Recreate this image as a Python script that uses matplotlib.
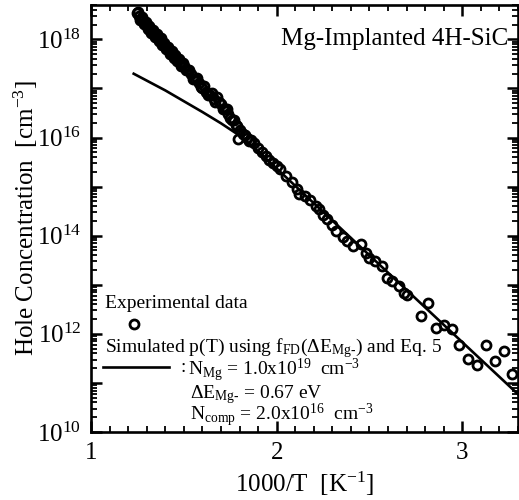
import numpy as np
import matplotlib
matplotlib.use("Agg")
import matplotlib.pyplot as plt
from matplotlib.ticker import LogLocator, MultipleLocator, FuncFormatter, NullFormatter

plt.rcParams["font.family"] = ["Liberation Serif", "DejaVu Serif"]
plt.rcParams["mathtext.fontset"] = "custom"
plt.rcParams["mathtext.rm"] = "Liberation Serif"
plt.rcParams["mathtext.it"] = "Liberation Serif:italic"
plt.rcParams["mathtext.bf"] = "Liberation Serif:bold"

exp_x = [1.247, 1.26, 1.27, 1.28, 1.29, 1.30, 1.31, 1.32, 1.33, 1.34,
         1.35, 1.36, 1.37, 1.38, 1.39, 1.40, 1.41, 1.42, 1.43, 1.44,
         1.45, 1.46, 1.47, 1.48, 1.49, 1.50, 1.52, 1.54, 1.56, 1.58,
         1.60, 1.62, 1.64, 1.66, 1.68, 1.70, 1.72, 1.74, 1.76, 1.78,
         1.79, 1.80, 1.82, 1.84, 1.86, 1.88, 1.90, 1.92, 1.94, 1.96,
         1.98, 2.00, 2.02, 2.05, 2.08, 2.11, 2.12, 2.15, 2.18, 2.21,
         2.23, 2.25, 2.27, 2.30, 2.32, 2.355, 2.38, 2.41, 2.457, 2.48,
         2.50, 2.53, 2.57, 2.597, 2.62, 2.66, 2.688, 2.70, 2.78, 2.817,
         2.86, 2.903, 2.946, 2.984, 3.03, 3.08, 3.13, 3.177, 3.226, 3.27]
exp_logp = [18.54, 18.47, 18.42, 18.38, 18.33, 18.29, 18.25, 18.20, 18.16, 18.12,
            18.07, 18.03, 17.99, 17.95, 17.90, 17.86, 17.83, 17.78, 17.74, 17.69,
            17.66, 17.62, 17.57, 17.53, 17.49, 17.45, 17.37, 17.29, 17.20, 17.11,
            17.01, 16.93, 16.86, 16.79, 16.83, 16.68, 16.58, 16.48, 16.36, 16.26,
            15.97, 16.15, 16.07, 16.00, 15.95, 15.88, 15.78, 15.70, 15.62, 15.55,
            15.48, 15.42, 15.36, 15.22, 15.10, 14.95, 14.85, 14.80, 14.72, 14.60,
            14.55, 14.42, 14.35, 14.21, 14.10, 13.98, 13.90, 13.78, 13.84, 13.65,
            13.54, 13.48, 13.38, 13.13, 13.08, 12.97, 12.83, 12.79, 12.36, 12.63,
            12.12, 12.18, 12.10, 11.78, 11.49, 11.37, 11.78, 11.45, 11.66, 11.19]

# second run of measurements crowding the high-temperature band
band_x = [1.255, 1.265, 1.275, 1.285, 1.295, 1.305, 1.315, 1.325, 1.335, 1.345,
          1.355, 1.365, 1.375, 1.385, 1.395, 1.405, 1.415, 1.425, 1.435, 1.445,
          1.455, 1.465, 1.475, 1.485, 1.495, 1.51, 1.53, 1.55, 1.57, 1.59,
          1.61, 1.63, 1.65, 1.67, 1.69, 1.71, 1.73, 1.75, 1.77, 1.785,
          1.83, 1.85]
band_logp = [18.55, 18.40, 18.45, 18.31, 18.36, 18.22, 18.28, 18.13, 18.19, 18.05,
             18.10, 17.96, 18.02, 17.88, 17.93, 17.80, 17.85, 17.71, 17.77, 17.63,
             17.69, 17.55, 17.60, 17.46, 17.52, 17.37, 17.38, 17.20, 17.22, 17.03,
             17.05, 16.86, 16.90, 16.72, 16.72, 16.58, 16.58, 16.40, 16.36, 16.24,
             16.05, 15.93]

# simulated p(T) curve
sim_x = [1.23, 1.30, 1.40, 1.50, 1.60, 1.70, 1.80, 1.90, 2.00, 2.50, 3.00, 3.30]
sim_logp = [17.30, 17.16, 16.96, 16.74, 16.52, 16.29, 16.04, 15.72, 15.37, 13.60, 11.83, 10.77]

exp_p = 10.0 ** np.array(exp_logp)
band_p = 10.0 ** np.array(band_logp)
sim_p = 10.0 ** np.array(sim_logp)

fig = plt.figure(figsize=(5.19, 5.00), dpi=100)
ax = fig.add_axes([91 / 519, 1 - 432 / 500, 427 / 519, 427 / 500])

ax.plot(sim_x, sim_p, color="black", lw=1.9, zorder=2)
mk = dict(marker="o", ls="none", ms=6.5, mfc="none", mec="black", mew=2.0, zorder=3)
ax.plot(exp_x, exp_p, **mk)
ax.plot(band_x, band_p, **mk)

ax.set_yscale("log")
ax.set_xlim(1, 3.3)
ax.set_ylim(1e10, 10 ** 18.7)

ax.xaxis.set_major_locator(MultipleLocator(1))
ax.xaxis.set_minor_locator(MultipleLocator(0.1))
ax.yaxis.set_major_locator(LogLocator(base=10, numticks=20))
ax.yaxis.set_minor_locator(LogLocator(base=10, subs=np.arange(2, 10), numticks=20))
ax.yaxis.set_minor_formatter(NullFormatter())


def ylab(v, pos):
    e = int(round(np.log10(v)))
    return f"$10^{{{e}}}$" if e % 2 == 0 else ""


ax.yaxis.set_major_formatter(FuncFormatter(ylab))
ax.xaxis.set_major_formatter(FuncFormatter(lambda v, p: f"{v:g}"))

ax.tick_params(which="both", direction="in", top=True, right=True, labelsize=18)
ax.tick_params(which="major", length=8, width=1.8, pad=7)
ax.tick_params(which="minor", length=4, width=1.3)
for s in ax.spines.values():
    s.set_linewidth(1.9)

ax.set_xlabel("1000/T  [K$^{-1}$]", fontsize=18, labelpad=4)
ax.set_ylabel("Hole Concentration  [cm$^{-3}$]", fontsize=18, labelpad=-2)

ax.text(0.977, 0.907, "Mg-Implanted 4H-SiC", transform=ax.transAxes,
        ha="right", va="baseline", fontsize=18)

# legend, drawn by hand like the original
fs = 14
ax.text(0.033, 0.290, "Experimental data", transform=ax.transAxes,
        va="baseline", fontsize=fs)
ax.plot([0.101], [0.253], "o", ms=6.5, mfc="none", mec="black", mew=2.0,
        transform=ax.transAxes, clip_on=False)
ax.text(0.033, 0.187,
        r"Simulated p(T) using f$_{\mathrm{FD}}$($\Delta$E$_{\mathrm{Mg\text{-}}}$) and Eq. 5",
        transform=ax.transAxes, va="baseline", fontsize=fs)
ax.plot([0.028, 0.183], [0.152, 0.152], color="black", lw=1.9,
        transform=ax.transAxes)
ax.text(0.210, 0.140, ":", transform=ax.transAxes, va="baseline", fontsize=fs)
ax.text(0.226, 0.133, r"N$_{\mathrm{Mg}}$ = 1.0x10$^{19}$  cm$^{-3}$",
        transform=ax.transAxes, va="baseline", fontsize=fs)
ax.text(0.233, 0.080, r"$\Delta$E$_{\mathrm{Mg\text{-}}}$ = 0.67 eV",
        transform=ax.transAxes, va="baseline", fontsize=fs)
ax.text(0.232, 0.028, r"N$_{\mathrm{comp}}$ = 2.0x10$^{16}$  cm$^{-3}$",
        transform=ax.transAxes, va="baseline", fontsize=fs)

fig.savefig("out.png", dpi=100)
